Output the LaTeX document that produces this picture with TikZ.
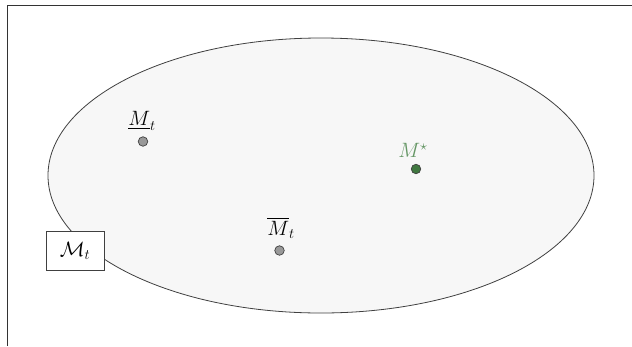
\documentclass[tikz,border=0pt]{standalone}
\usepackage{amsmath}
\begin{document}
\begin{tikzpicture}[x=1pt,y=-1pt,
  dotstyle/.style={circle,draw=black!75,line width=0.7pt,fill=black!40,minimum size=9.5pt,inner sep=0pt},
  lbl/.style={font=\fontsize{20}{24}\selectfont,inner sep=0pt}]
\definecolor{stargreen}{RGB}{64,120,64}
\definecolor{starlabel}{RGB}{100,150,100}
\useasboundingbox (0,0) rectangle (632,346);
\draw[black!80,line width=0.8pt] (7,346) -- (7,5) -- (632,5);
\draw[black!75,line width=0.8pt,fill=black!3] (321,175.5) ellipse [x radius=273, y radius=137.5];
\node[dotstyle] (mu) at (143,141.5) {};
\node[dotstyle] (mb) at (279.5,250.5) {};
\node[dotstyle,fill=stargreen] (ms) at (416,169) {};
\node[lbl,anchor=south] (lmu) at (142,131) {$\underline{M}_t$};
\node[lbl,anchor=south] (lmb) at (281,239) {$\overline{M}_t$};
\node[lbl,anchor=south,text=starlabel] (lms) at (413,158) {$M^\star$};
\node[draw=black!75,fill=white,line width=0.8pt,font=\fontsize{20}{24}\selectfont,minimum width=58pt,minimum height=39pt,inner sep=2pt] (box) at (75,251) {$\mathcal{M}_t$};
\end{tikzpicture}
\end{document}
